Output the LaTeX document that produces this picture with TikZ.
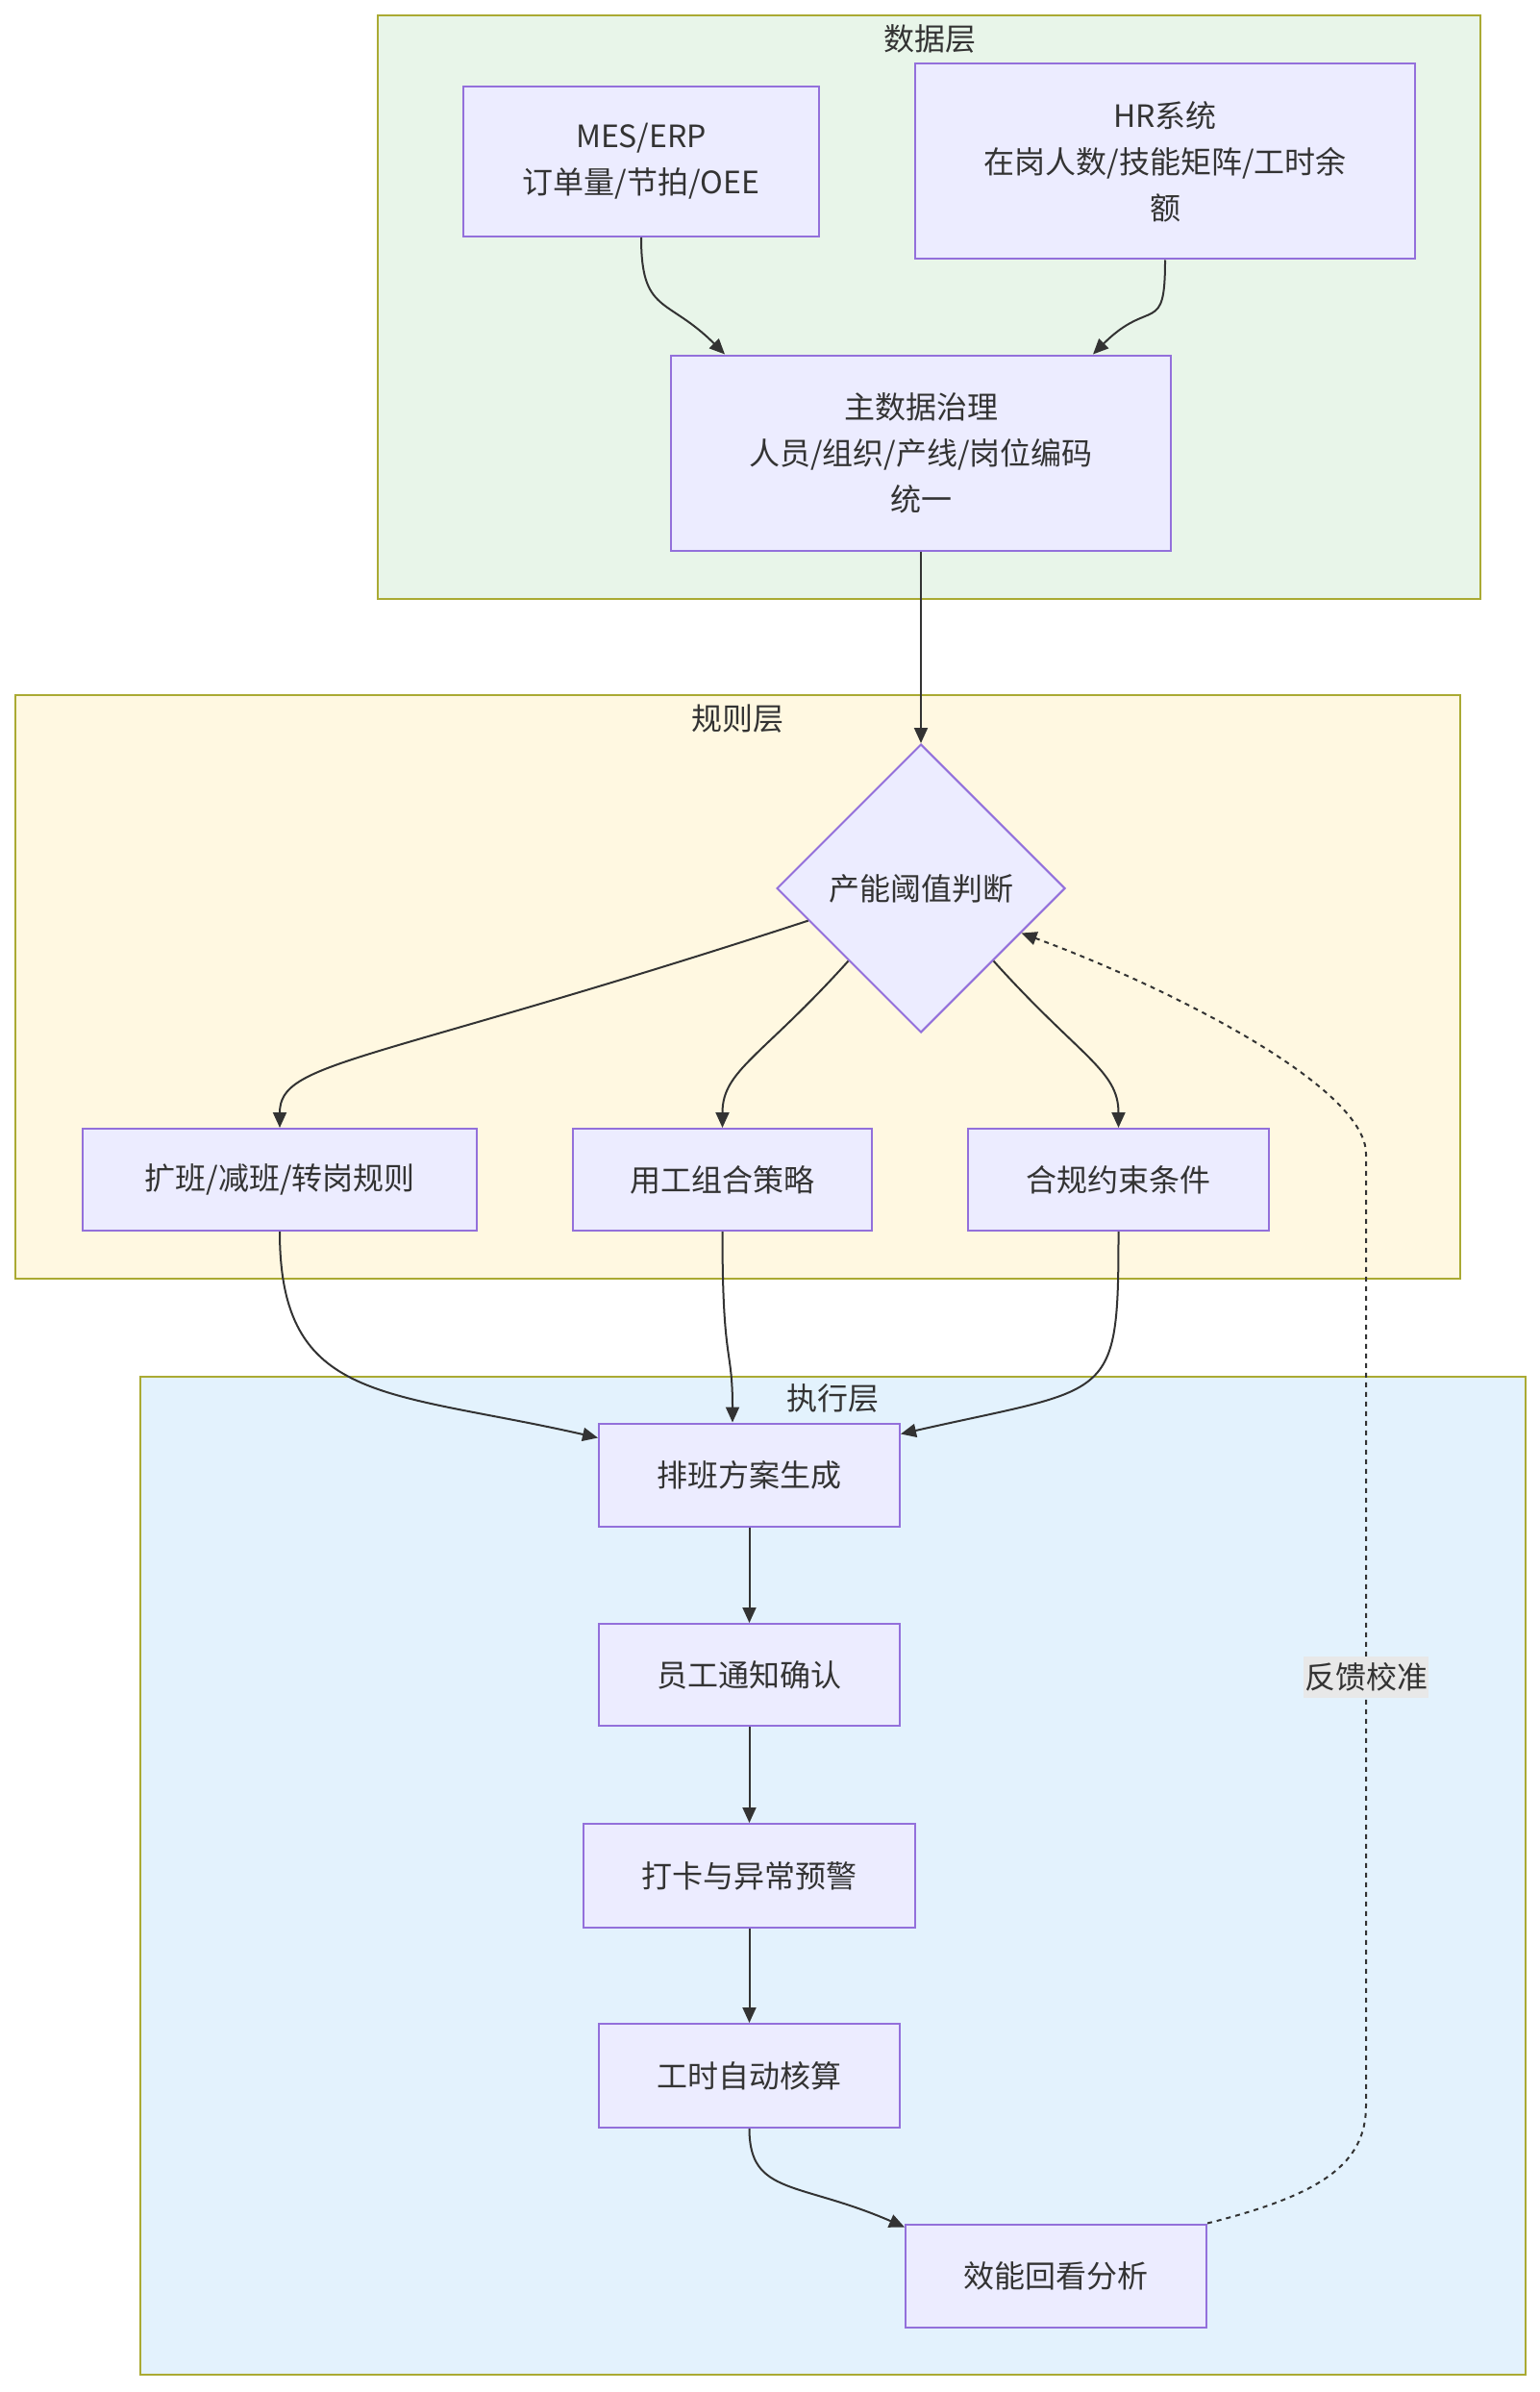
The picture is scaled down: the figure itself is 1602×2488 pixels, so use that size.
\documentclass[tikz,border=0pt]{standalone}
\usepackage{fontspec}
\setmainfont{Noto Sans CJK SC}
\usepackage{xcolor}
\usepackage{tikz}
\usetikzlibrary{shapes.geometric,arrows.meta}

\definecolor{nodefill}{HTML}{ECECFF}
\definecolor{nodeline}{HTML}{9370DB}
\definecolor{grpline}{HTML}{AAAA33}
\definecolor{datafill}{HTML}{E8F5E9}
\definecolor{rulefill}{HTML}{FFF8E1}
\definecolor{execfill}{HTML}{E3F2FD}
\definecolor{edgecol}{HTML}{333333}
\definecolor{lblfill}{HTML}{E8E8E8}

\tikzset{
  box/.style={draw=nodeline, fill=nodefill, line width=2pt, inner sep=0pt, align=center, text=edgecol},
  judgebox/.style={diamond, aspect=1, draw=nodeline, fill=nodefill, line width=2pt, inner sep=0pt,
    minimum width=300pt, minimum height=300pt, text=edgecol},
  grp/.style={draw=grpline, line width=2pt},
  grptitle/.style={text=edgecol, inner sep=0pt},
  flow/.style={draw=edgecol, line width=2pt, -{Triangle[length=16pt,width=14pt]}},
  fb/.style={flow, dash pattern=on 5pt off 5pt},
  fblabel/.style={fill=lblfill, text=edgecol, inner xsep=1pt, inner ysep=7pt, solid}
}

\begin{document}
\begin{tikzpicture}[x=1pt, y=1pt, font={\fontsize{32}{48}\selectfont}]
  \useasboundingbox (0,0) rectangle (1602,-2488);

  \draw[grp, fill=datafill] (393,-16)   rectangle (1540,-623);  \node[grptitle] (datat) at (967,-40)   {数据层};
  \draw[grp, fill=rulefill] (16,-723)   rectangle (1519,-1330); \node[grptitle] (rulet) at (767,-748)  {规则层};
  \draw[grp, fill=execfill] (146,-1432) rectangle (1587,-2470); \node[grptitle] (exect) at (866,-1454) {执行层};

  \node[box, minimum width=370pt, minimum height=156pt] (mes)   at (667,-168)    {MES/ERP\\订单量/节拍/OEE};
  \node[box, minimum width=520pt, minimum height=203pt] (hr)    at (1212,-168)   {HR系统\\在岗人数/技能矩阵/工时余\\额};
  \node[box, minimum width=520pt, minimum height=203pt] (gov)   at (958,-471)    {主数据治理\\人员/组织/产线/岗位编码\\统一};
  \node[judgebox] (judge) at (958,-924) {产能阈值判断};
  \node[box, minimum width=410pt, minimum height=106pt] (kb)    at (291,-1227)   {扩班/减班/转岗规则};
  \node[box, minimum width=311pt, minimum height=106pt] (yg)    at (751.5,-1227) {用工组合策略};
  \node[box, minimum width=313pt, minimum height=106pt] (hg)    at (1163.5,-1227) {合规约束条件};
  \node[box, minimum width=313pt, minimum height=107pt] (pb)    at (779.5,-1534) {排班方案生成};
  \node[box, minimum width=313pt, minimum height=106pt] (tz)    at (779.5,-1742) {员工通知确认};
  \node[box, minimum width=345pt, minimum height=108pt] (dk)    at (779.5,-1951) {打卡与异常预警};
  \node[box, minimum width=313pt, minimum height=108pt] (gs)    at (779.5,-2159) {工时自动核算};
  \node[box, minimum width=313pt, minimum height=107pt] (xn)    at (1098.5,-2367) {效能回看分析};

  \draw[flow] (mes.south) .. controls +(0,-80) and +(-60,60) .. ([xshift=57pt]gov.north west);
  \draw[flow] (hr.south) .. controls +(0,-80) and +(60,60) .. ([xshift=-82pt]gov.north east);
  \draw[flow] (gov) -- (judge);
  \draw[flow] (judge.196) .. controls +(-460,-150) and +(0,70) .. (kb.north);
  \draw[flow] (judge.225) .. controls +(-90,-100) and +(0,60) .. (yg.north);
  \draw[flow] (judge.315) .. controls +(90,-100) and +(0,60) .. (hg.north);
  \draw[flow] (kb.south) .. controls +(0,-180) and +(-220,50) .. ([yshift=-16pt]pb.north west);
  \draw[flow] (yg.south) .. controls +(0,-140) and +(0,80) .. ([xshift=140pt]pb.north west);
  \draw[flow] (hg.south) .. controls +(0,-180) and +(220,50) .. ([yshift=-12pt]pb.north east);
  \foreach \a/\b in {pb/tz, tz/dk, dk/gs} {
    \draw[flow] (\a) -- (\b);
  }
  \draw[flow] (gs.south) .. controls +(0,-70) and +(-110,48) .. ([yshift=-4pt]xn.north west);

  \coordinate (fbbot) at (1421,-2190);
  \coordinate (fbtop) at (1421,-1200);
  \draw[fb] (xn.north east) .. controls +(120,30) and +(0,-60) .. (fbbot)
    -- node[fblabel, pos=0.45] (fbl) {反馈校准} (fbtop)
    .. controls +(0,70) and +(150,-55) .. (judge.336);
\end{tikzpicture}
\end{document}
